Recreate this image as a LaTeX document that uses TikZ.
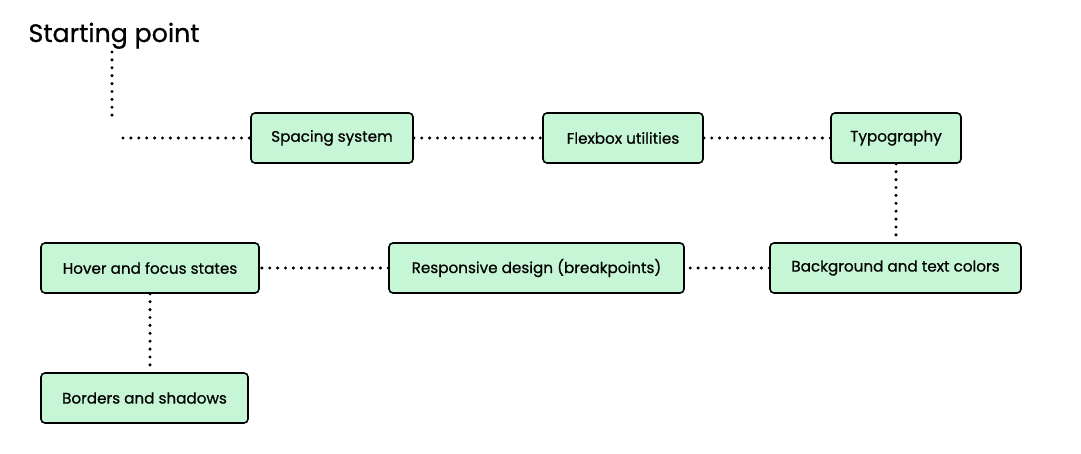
\documentclass[tikz,border=0pt]{standalone}
\usepackage{fontspec}
\setmainfont{Poppins}
\newfontfamily\medfont{Poppins}[FakeBold=0.7]
\definecolor{boxfill}{HTML}{C6F6D5}
\begin{document}
\begin{tikzpicture}[x=1pt,y=-1pt,
  box/.style={draw=black, line width=1.6pt, fill=boxfill, rounded corners=4pt, minimum height=50pt, inner sep=0pt, font=\medfont\fontsize{15.2}{18}\selectfont},
  link/.style={line width=3.4pt, line cap=round, dash pattern=on 0pt off 7.9pt}]
\useasboundingbox (0,0) rectangle (1081,454);
\node[anchor=base west, font=\medfont\fontsize{25.3}{30}\selectfont] (start) at (25,42) {Starting point};
\node[box, minimum width=162pt] (spacing) at (332,138) {Spacing system};
\node[box, minimum width=160pt] (flex) at (623,138) {Flexbox utilities};
\node[box, minimum width=130pt] (typo) at (896,138) {Typography};
\node[box, minimum width=251pt] (bg) at (895.5,268) {Background and text colors};
\node[box, minimum width=295pt] (resp) at (536.5,268) {Responsive design (breakpoints)};
\node[box, minimum width=218pt] (hover) at (150,268) {Hover and focus states};
\node[box, minimum width=207pt] (borders) at (144.5,398) {Borders and shadows};
\coordinate (s0) at (112,52);
\coordinate (s1) at (112,122);
\coordinate (s2) at (123,138);
\draw[link] (s0) -- (s1);
\draw[link] (s2) -- (spacing.west);
\draw[link] (spacing) -- (flex);
\draw[link] (flex) -- (typo);
\draw[link] (typo) -- (typo |- bg.north);
\draw[link] (bg) -- (resp);
\draw[link] (resp) -- (hover);
\draw[link] (hover) -- (hover |- borders.north);
\end{tikzpicture}
\end{document}
